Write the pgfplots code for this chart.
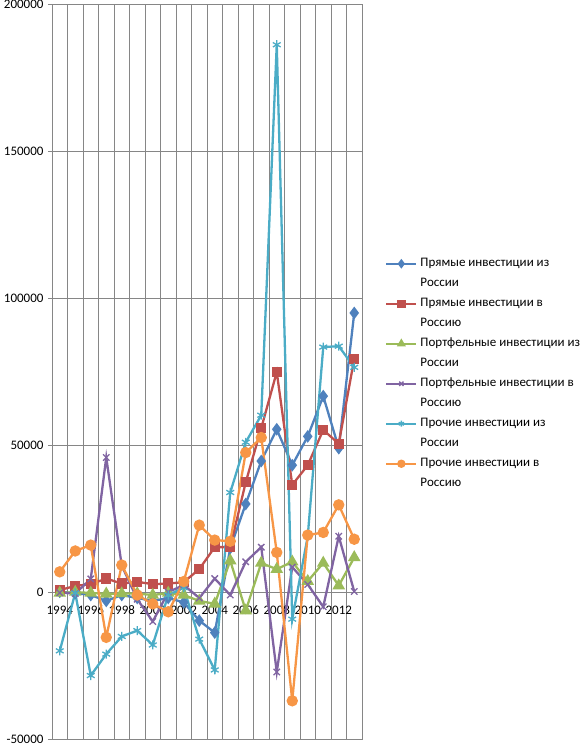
\documentclass[border=0pt]{standalone}
\usepackage{pgfplots}
\pgfplotsset{compat=1.18}
\usepackage{fontspec}
\setmainfont{Carlito}
\newcommand\fs{\fontsize{13bp}{15bp}\selectfont}
\definecolor{gridgray}{RGB}{134,134,134}
\definecolor{cBlue}{RGB}{79,129,189}
\definecolor{cRed}{RGB}{192,80,77}
\definecolor{cGreen}{RGB}{155,187,89}
\definecolor{cPurple}{RGB}{128,100,162}
\definecolor{cTeal}{RGB}{75,172,198}
\definecolor{cOrange}{RGB}{247,150,70}
\begin{document}
\begin{tikzpicture}
\begin{axis}[
  scale only axis, width=310bp, height=734.5bp,
  xmin=1993.5, xmax=2013.5, ymin=-50000, ymax=200000,
  /pgf/number format/fixed,
  /pgf/number format/assume math mode=true,
  /pgf/number format/1000 sep={},
  xtick={1993.5,1994.5,1995.5,1996.5,1997.5,1998.5,1999.5,2000.5,2001.5,2002.5,2003.5,2004.5,2005.5,2006.5,2007.5,2008.5,2009.5,2010.5,2011.5,2012.5,2013.5},
  xticklabels={},
  xmajorgrids, ymajorgrids,
  grid style={gridgray, line width=0.8bp},
  axis line style={gridgray, line width=0.8bp},
  ytick={-50000,0,50000,100000,150000,200000},
  ytick pos=left, xtick pos=left,
  tick align=outside, major tick length=4bp,
  y tick style={gridgray, line width=0.8bp},
  x tick style={draw=none},
  scaled y ticks=false,
  yticklabel style={font=\fs, xshift=-1bp},
  extra x ticks={1994,1996,1998,2000,2002,2004,2006,2008,2010,2012},
  extra x tick labels={1994,1996,1998,2000,2002,2004,2006,2008,2010,2012},
  extra x tick style={grid=none, major tick length=0pt, xticklabel style={anchor=north, yshift=136.5bp, font=\fs}},
  legend style={at={(1,0.5)}, anchor=west, xshift=23bp, yshift=-2bp, draw=none, fill=none, inner sep=0pt,
    row sep=8bp, column sep=3bp, font=\fs,
    nodes={inner sep=0pt, text height=9bp, text depth=3bp}},
  legend cell align=left,
  legend image code/.code={\draw[mark repeat=2,mark phase=2,#1,mark size=3bp] plot coordinates {(0bp,0bp) (15bp,0bp) (30bp,0bp)};},
  every axis plot/.append style={line width=2.3bp},
]
\addplot[cBlue, mark=diamond*, mark size=4.5bp, mark options={solid}] coordinates {
(1994,100) (1995,-300) (1996,-1000) (1997,-3000) (1998,-1000) (1999,-2000) (2000,-3000) (2001,-2000) (2002,-3500) (2003,-9700) (2004,-13800) (2005,15000) (2006,30000) (2007,44600) (2008,55400) (2009,43200) (2010,53000) (2011,66700) (2012,49000) (2013,95000)};
\addlegendentry{Прямые инвестиции из}
\addlegendimage{empty legend}\addlegendentry{России}
\addplot[cRed, mark=square*, mark size=4bp] coordinates {
(1994,700) (1995,2100) (1996,2700) (1997,4600) (1998,2900) (1999,3500) (2000,2700) (2001,2900) (2002,3400) (2003,7800) (2004,15300) (2005,15300) (2006,37400) (2007,55800) (2008,74900) (2009,36500) (2010,43200) (2011,55200) (2012,50500) (2013,79400)};
\addlegendentry{Прямые инвестиции в}
\addlegendimage{empty legend}\addlegendentry{Россию}
\addplot[cGreen, mark=triangle*, mark size=5bp] coordinates {
(1994,-300) (1995,0) (1996,-300) (1997,-600) (1998,-500) (1999,-500) (2000,-1000) (2001,-300) (2002,-1000) (2003,-3000) (2004,-4000) (2005,10700) (2006,-6300) (2007,9900) (2008,7800) (2009,10300) (2010,3700) (2011,9900) (2012,2200) (2013,11800)};
\addlegendentry{Портфельные инвестиции из}
\addlegendimage{empty legend}\addlegendentry{России}
\addplot[cPurple, mark=x, mark size=4.5bp, mark options={line width=1.3bp}] coordinates {
(1994,-200) (1995,-500) (1996,4500) (1997,45800) (1998,9000) (1999,-2400) (2000,-10000) (2001,0) (2002,2400) (2003,-2000) (2004,4600) (2005,-1000) (2006,10300) (2007,15300) (2008,-27200) (2009,8500) (2010,2600) (2011,-5000) (2012,19000) (2013,200)};
\addlegendentry{Портфельные инвестиции в}
\addlegendimage{empty legend}\addlegendentry{Россию}
\addplot[cTeal, mark=asterisk, mark size=4.5bp, mark options={line width=1.3bp}] coordinates {
(1994,-20000) (1995,-300) (1996,-28400) (1997,-21100) (1998,-15100) (1999,-13100) (2000,-18000) (2001,-1000) (2002,1500) (2003,-16000) (2004,-26500) (2005,33900) (2006,51000) (2007,60200) (2008,186300) (2009,-9200) (2010,19000) (2011,83400) (2012,83700) (2013,76500)};
\addlegendentry{Прочие инвестиции из}
\addlegendimage{empty legend}\addlegendentry{России}
\addplot[cOrange, mark=*, mark size=4.5bp] coordinates {
(1994,6900) (1995,14000) (1996,16000) (1997,-15400) (1998,9200) (1999,-1000) (2000,-4000) (2001,-6700) (2002,3600) (2003,22800) (2004,17700) (2005,17300) (2006,47500) (2007,52600) (2008,13500) (2009,-37000) (2010,19400) (2011,20300) (2012,29700) (2013,18000)};
\addlegendentry{Прочие инвестиции в}
\addlegendimage{empty legend}\addlegendentry{Россию}
\end{axis}
\pgfresetboundingbox
\path ([xshift=-52bp,yshift=-6bp]current axis.south west) rectangle ++(584bp,745bp);
\end{tikzpicture}
\end{document}
